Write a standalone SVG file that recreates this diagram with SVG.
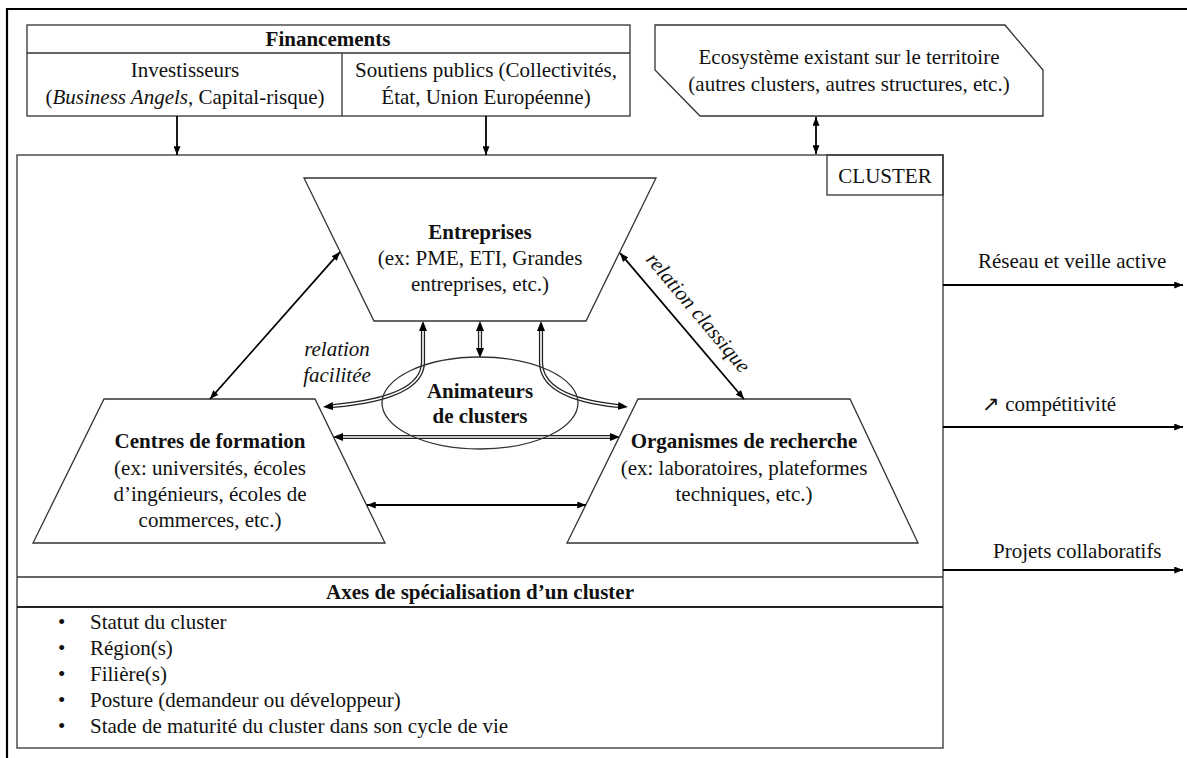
<svg xmlns="http://www.w3.org/2000/svg" width="1187" height="758" viewBox="0 0 1187 758">
<style>
.bx{fill:none;stroke:#333;stroke-width:1.3}
.t{font-family:"Liberation Serif","Times New Roman",serif;font-size:21px;fill:#111;text-anchor:middle}
.s{text-anchor:start}
.b{font-weight:bold}
.i{font-style:italic}
.ln{stroke:#000;stroke-width:1.8;fill:none}
.dO{stroke:#222;stroke-width:4.2;fill:none}
.dI{stroke:#fff;stroke-width:1.6;fill:none}
</style>
<defs>
<marker id="ah" viewBox="0 0 10 8" refX="10" refY="4" markerWidth="9" markerHeight="7" markerUnits="userSpaceOnUse" orient="auto-start-reverse"><path d="M0,0 L10,4 L0,8 z" fill="#000"/></marker>
<marker id="ahb" viewBox="0 0 10 8" refX="0" refY="4" markerWidth="10" markerHeight="9" markerUnits="userSpaceOnUse" orient="auto-start-reverse"><path d="M0,0 L10,4 L0,8 z" fill="#000"/></marker>
</defs>
<rect width="1187" height="758" fill="#fff"/>
<path d="M7,758 V9 H1187" fill="none" stroke="#000" stroke-width="2.2"/>

<g id="financements">
<rect class="bx" x="27" y="25" width="603" height="91"/>
<line class="bx" x1="27" y1="53" x2="630" y2="53"/>
<line class="bx" x1="342" y1="53" x2="342" y2="116"/>
<text class="t b" x="328" y="46">Financements</text>
<text class="t" x="185" y="77">Investisseurs</text>
<text class="t" x="185" y="104">(<tspan font-style="italic">Business Angels</tspan>, Capital-risque)</text>
<text class="t" x="486" y="77">Soutiens publics (Collectivités,</text>
<text class="t" x="486" y="104">État, Union Européenne)</text>
</g>

<g id="ecosysteme">
<path class="bx" d="M655,25 H1005 L1043,70 V116 H700 L655,70 Z"/>
<text class="t" x="849" y="64">Ecosystème existant sur le territoire</text>
<text class="t" x="849" y="91">(autres clusters, autres structures, etc.)</text>
</g>

<g id="cluster">
<rect class="bx" x="17" y="155" width="926" height="593"/>
<rect class="bx" x="827" y="155" width="116" height="40"/>
<text class="t" x="885" y="183">CLUSTER</text>
</g>

<g id="axes">
<line class="bx" x1="17" y1="577" x2="943" y2="577"/>
<line x1="17" y1="607" x2="943" y2="607" stroke="#222" stroke-width="2"/>
<text class="t b" x="480" y="599">Axes de spécialisation d’un cluster</text>
<g class="t s">
<text x="58" y="629">•</text><text x="90" y="629">Statut du cluster</text>
<text x="58" y="655">•</text><text x="90" y="655">Région(s)</text>
<text x="58" y="681">•</text><text x="90" y="681">Filière(s)</text>
<text x="58" y="707">•</text><text x="90" y="707">Posture (demandeur ou développeur)</text>
<text x="58" y="733">•</text><text x="90" y="733">Stade de maturité du cluster dans son cycle de vie</text>
</g>
</g>

<g id="entreprises">
<path class="bx" d="M304,178 H656 L586,321 H374 Z"/>
<text class="t b" x="480" y="239">Entreprises</text>
<text class="t" x="480" y="265">(ex: PME, ETI, Grandes</text>
<text class="t" x="480" y="291">entreprises, etc.)</text>
</g>

<g id="centres">
<path class="bx" d="M104,399 H315 L385,543 H33 Z"/>
<text class="t b" x="210" y="448">Centres de formation</text>
<text class="t" x="210" y="475">(ex: universités, écoles</text>
<text class="t" x="210" y="501">d’ingénieurs, écoles de</text>
<text class="t" x="210" y="527">commerces, etc.)</text>
</g>

<g id="organismes">
<path class="bx" d="M638,399 H850 L918,543 H567 Z"/>
<text class="t b" x="744" y="448">Organismes de recherche</text>
<text class="t" x="744" y="475">(ex: laboratoires, plateformes</text>
<text class="t" x="744" y="501">techniques, etc.)</text>
</g>

<g id="connectors">
<path class="ln" d="M177,116 V155" marker-end="url(#ah)"/>
<path class="ln" d="M486,116 V155" marker-end="url(#ah)"/>
<path class="ln" d="M816,117 V154" marker-start="url(#ah)" marker-end="url(#ah)"/>
<path class="ln" d="M210,399 L340,252" marker-start="url(#ah)" marker-end="url(#ah)"/>
<path class="ln" d="M620,253 L744,399" marker-start="url(#ah)" marker-end="url(#ah)"/>
<path class="ln" d="M367,505 H586" marker-start="url(#ah)" marker-end="url(#ah)"/>
<path class="ln" d="M943,285 H1183" marker-end="url(#ah)"/>
<path class="ln" d="M943,427 H1183" marker-end="url(#ah)"/>
<path class="ln" d="M943,570 H1183" marker-end="url(#ah)"/>

<path class="dO" d="M480,331 V348" marker-start="url(#ahb)" marker-end="url(#ahb)"/>
<path class="dI" d="M480,331 V348"/>
<path class="dO" d="M423,331 V362 Q423,398 333,406" marker-start="url(#ahb)" marker-end="url(#ahb)"/>
<path class="dI" d="M423,331 V362 Q423,398 333,406"/>
<path class="dO" d="M541,331 V362 Q541,398 618,406" marker-start="url(#ahb)" marker-end="url(#ahb)"/>
<path class="dI" d="M541,331 V362 Q541,398 618,406"/>
<path class="dO" d="M343,437 H610" marker-start="url(#ahb)" marker-end="url(#ahb)"/>
<path class="dI" d="M343,437 H610"/>

<text class="t i" x="337" y="356">relation</text>
<text class="t i" x="337" y="382">facilitée</text>
<text class="t i" x="693" y="317" transform="rotate(50 693 317)">relation classique</text>
<text class="t s" x="978" y="268">Réseau et veille active</text>
<text class="t s" x="982" y="411">↗ compétitivité</text>
<text class="t s" x="993" y="558">Projets collaboratifs</text>
</g>

<g id="animateurs">
<ellipse cx="480" cy="403" rx="98" ry="46" fill="none" stroke="#333" stroke-width="1.3"/>
<text class="t b" x="480" y="398">Animateurs</text>
<text class="t b" x="480" y="423">de clusters</text>
</g>
</svg>
